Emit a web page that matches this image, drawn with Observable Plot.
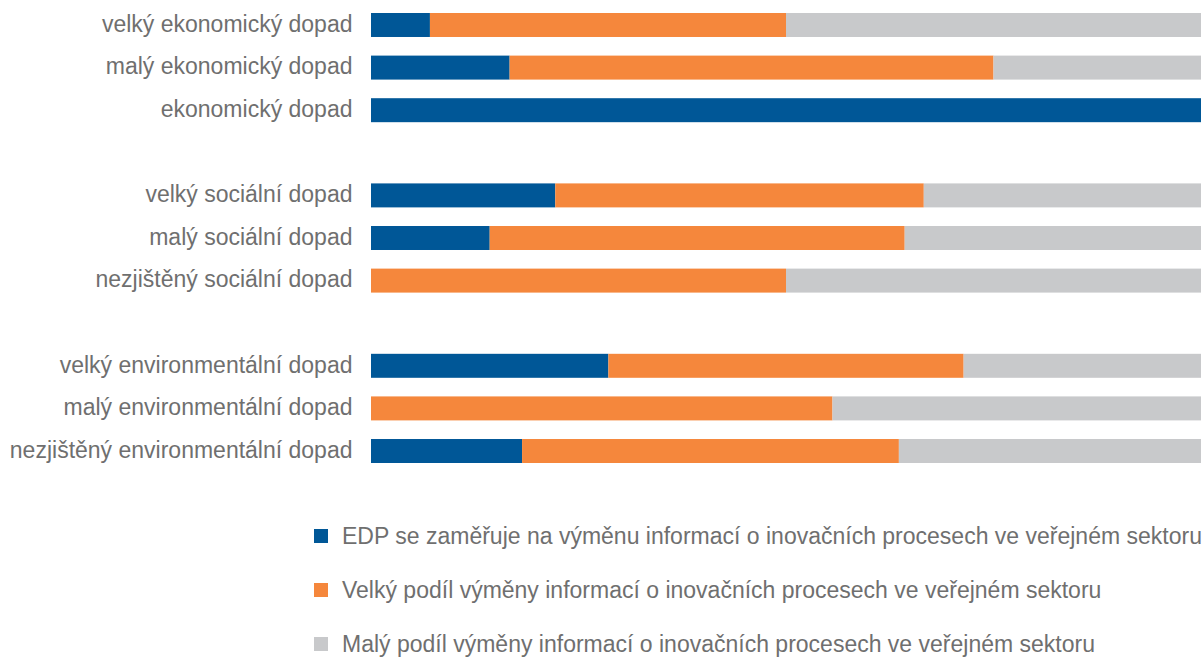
<!DOCTYPE html>
<html>
<head>
<meta charset="utf-8">
<script src="https://cdn.jsdelivr.net/npm/d3@7"></script>
<script src="https://cdn.jsdelivr.net/npm/@observablehq/plot@0.6"></script>
<style>
  body { margin: 0; background: #fff; font-family: "Liberation Sans", Arial, sans-serif; overflow: hidden; }
  #legend { margin-left: 314px; margin-top: 9px; }
  .item { height: 54px; display: flex; align-items: center; font-size: 23px; color: #6f6f6f; white-space: nowrap; }
  .sw { width: 14px; height: 14px; margin-right: 14px; flex: none; }
</style>
</head>
<body>
<div id="chart"></div>
<div id="legend"></div>
<script>
const categories = [
  "velký ekonomický dopad",
  "malý ekonomický dopad",
  "ekonomický dopad",
  "velký sociální dopad",
  "malý sociální dopad",
  "nezjištěný sociální dopad",
  "velký environmentální dopad",
  "malý environmentální dopad",
  "nezjištěný environmentální dopad"
];
const axisOrder = [
  "velký ekonomický dopad",
  "malý ekonomický dopad",
  "ekonomický dopad",
  "gap1",
  "velký sociální dopad",
  "malý sociální dopad",
  "nezjištěný sociální dopad",
  "gap2",
  "velký environmentální dopad",
  "malý environmentální dopad",
  "nezjištěný environmentální dopad"
];
const seriesNames = [
  "EDP se zaměřuje na výměnu informací o inovačních procesech ve veřejném sektoru",
  "Velký podíl výměny informací o inovačních procesech ve veřejném sektoru",
  "Malý podíl výměny informací o inovačních procesech ve veřejném sektoru"
];
const seriesColors = ["#005797", "#F5873C", "#C8C9CB"];
const edp   = [7.1, 16.7, 100, 22.2, 14.3, 0, 28.6, 0, 18.2];
const velky = [42.9, 58.3, 0, 44.4, 50.0, 50.0, 42.8, 55.6, 45.4];
const maly  = [50.0, 25.0, 0, 33.4, 35.7, 50.0, 28.6, 44.4, 36.4];

const seriesValues = [edp, velky, maly];
const data = [];
categories.forEach((c, i) => {
  seriesValues.forEach((vals, s) => {
    data.push({cat: c, series: seriesNames[s], value: vals[i], order: s});
  });
});

const chart = Plot.plot({
  width: 1203,
  height: 500,
  marginLeft: 371,
  marginRight: 2,
  marginTop: 0,
  marginBottom: 0,
  style: {fontFamily: '"Liberation Sans", Arial, sans-serif', fontSize: "23px", color: "#6f6f6f", background: "#fff"},
  x: {domain: [0, 1], range: [371, 1201], axis: null},
  y: {domain: axisOrder, range: [13, 463], paddingInner: 0.437, paddingOuter: 0, round: false, label: null},
  color: {domain: seriesNames, range: seriesColors},
  marks: [
    Plot.barX(data, Plot.stackX({
      x: "value", y: "cat", fill: "series", order: "order", offset: "normalize"
    })),
    Plot.axisY({
      tickSize: 0, tickPadding: 19, label: null, fontSize: 23, fill: "#6f6f6f", dy: -1,
      tickFormat: d => d.startsWith("gap") ? "" : d
    })
  ]
});
document.getElementById("chart").appendChild(chart);

const legend = document.getElementById("legend");
seriesNames.forEach((n, i) => {
  const it = document.createElement("div");
  it.className = "item";
  const sw = document.createElement("span");
  sw.className = "sw";
  sw.style.background = seriesColors[i];
  const t = document.createElement("span");
  t.textContent = n;
  it.appendChild(sw);
  it.appendChild(t);
  legend.appendChild(it);
});
</script>
</body>
</html>
